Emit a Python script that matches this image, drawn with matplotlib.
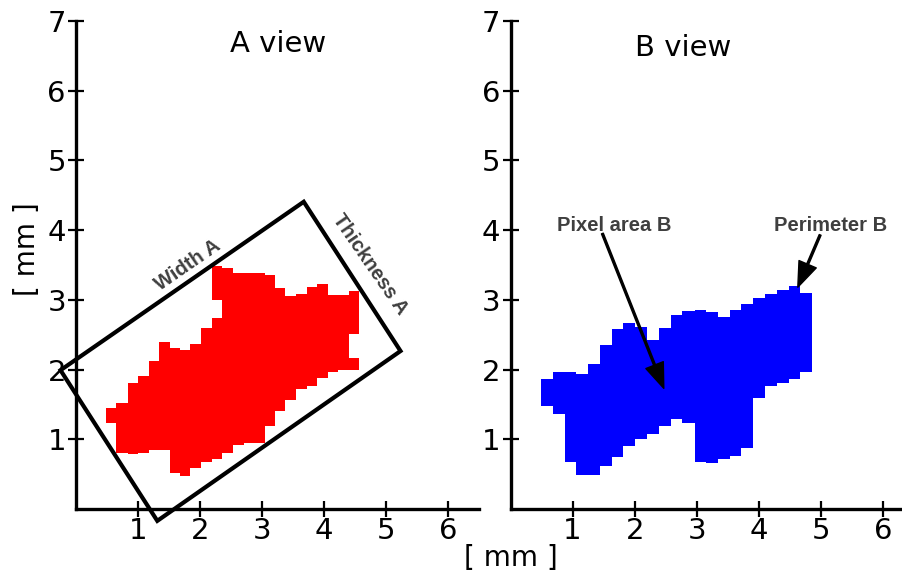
import numpy as np
import matplotlib
matplotlib.use("Agg")
import matplotlib.pyplot as plt
from matplotlib.patches import Polygon, PathPatch
from matplotlib.path import Path

# ---- A view: red pixel columns (mm) ----
red_edges = [0.48, 0.65, 0.83, 1.00, 1.17, 1.34, 1.51, 1.68, 1.84, 2.01, 2.19, 2.36, 2.53,
             2.70, 2.87, 3.04, 3.21, 3.37, 3.55, 3.72, 3.89, 4.06, 4.23, 4.40, 4.56]
red_top = [1.45, 1.52, 1.80, 1.90, 2.12, 2.40, 2.31, 2.28, 2.37, 2.59, 3.48, 3.45,
           3.39, 3.39, 3.39, 3.35, 3.17, 3.05, 3.08, 3.19, 3.22, 3.07, 3.07, 3.12]
red_bottom = [1.23, 0.81, 0.79, 0.80, 0.84, 0.84, 0.52, 0.48, 0.59, 0.68, 0.72, 0.80,
              0.92, 0.94, 0.94, 1.19, 1.41, 1.57, 1.72, 1.76, 1.88, 1.96, 2.00, 2.00]
# columns with a hole cut into them
red_gap_col = [10, 23]
red_gap_lo = [2.74, 2.16]
red_gap_hi = [2.99, 2.51]

# bounding box around A (corners, mm)
rect_x = [-0.25, 3.67, 5.23, 1.31]
rect_y = [1.99, 4.405, 2.265, -0.17]

# ---- B view: blue pixel columns (mm) ----
blue_edges = [0.49, 0.68, 0.875, 1.06, 1.25, 1.44, 1.63, 1.82, 2.01, 2.20, 2.39, 2.58,
              2.77, 2.965, 3.15, 3.34, 3.53, 3.72, 3.91, 4.10, 4.29, 4.48, 4.67, 4.86]
blue_top = [1.86, 1.96, 1.96, 1.94, 2.08, 2.355, 2.585, 2.66, 2.61, 2.42, 2.60, 2.78,
            2.84, 2.86, 2.82, 2.75, 2.86, 2.94, 3.02, 3.08, 3.14, 3.20, 3.10]
blue_bottom = [1.48, 1.36, 0.68, 0.49, 0.49, 0.62, 0.75, 0.91, 1.00, 1.07, 1.19, 1.285,
               1.23, 0.68, 0.66, 0.72, 0.76, 0.87, 1.59, 1.76, 1.80, 1.86, 1.97]

ticks_x = [1, 2, 3, 4, 5, 6]
ticks_y = [1, 2, 3, 4, 5, 6, 7]

note_color = '#3f3f3f'
note_font = ['Liberation Sans', 'DejaVu Sans']


def pixel_shape(ax, edges, top, bottom, color, gap_col=(), gap_lo=(), gap_hi=()):
    # every column -> one or two rectangles, all in one path so no seams show
    rects = []
    for i in range(len(top)):
        segs = [(bottom[i], top[i])]
        if i in gap_col:
            k = list(gap_col).index(i)
            segs = [(bottom[i], gap_lo[k]), (gap_hi[k], top[i])]
        x0, x1 = edges[i], edges[i + 1]
        for lo, hi in segs:
            rects.append(Path([(x0, lo), (x1, lo), (x1, hi), (x0, hi), (x0, lo)], closed=True))
    path = Path.make_compound_path(*rects)
    ax.add_patch(PathPatch(path, facecolor=color, edgecolor='none', zorder=2))


def style_axes(ax):
    ax.set_xlim(0, 6.5)
    ax.set_ylim(0, 7)
    ax.spines['top'].set_visible(False)
    ax.spines['right'].set_visible(False)
    ax.spines['left'].set_linewidth(2.4)
    ax.spines['bottom'].set_linewidth(2.4)
    ax.set_xticks(ticks_x)
    ax.set_yticks(ticks_y)
    ax.tick_params(direction='inout', length=11.5, width=1.6, labelsize=21)
    ax.tick_params(axis='x', pad=0)
    ax.tick_params(axis='y', pad=1.5)


fig = plt.figure(figsize=(9.03, 5.73), dpi=100)
ax1 = fig.add_axes([0.0842, 0.1117, 0.4466, 0.852])
ax2 = fig.add_axes([0.5654, 0.1117, 0.4466, 0.852])

# A view
style_axes(ax1)
pixel_shape(ax1, red_edges, red_top, red_bottom, '#ff0000', red_gap_col, red_gap_lo, red_gap_hi)
box = Polygon(list(zip(rect_x, rect_y)), closed=True, fill=False, edgecolor='black',
              linewidth=3, joinstyle='miter', clip_on=False, zorder=3)
ax1.add_patch(box)
ax1.text(3.26, 6.55, 'A view', ha='center', va='baseline', fontsize=21)
ax1.text(1.80, 3.50, 'Width A', rotation=34.6, ha='center', va='center',
         fontsize=14.5, fontweight='bold', color=note_color, family=note_font)
ax1.text(4.73, 3.51, 'Thickness A', rotation=-55.4, ha='center', va='center',
         fontsize=14.5, fontweight='bold', color=note_color, family=note_font)

# B view
style_axes(ax2)
pixel_shape(ax2, blue_edges, blue_top, blue_bottom, '#0000ff')
ax2.text(2.79, 6.50, 'B view', ha='center', va='baseline', fontsize=21)
arrow = dict(facecolor='black', edgecolor='black', width=1.4, headwidth=13.5, headlength=18, shrink=0)
ax2.annotate('', xy=(2.47, 1.73), xytext=(1.48, 3.95), arrowprops=arrow)
ax2.annotate('', xy=(4.63, 3.18), xytext=(4.99, 3.93), arrowprops=arrow)
ax2.text(1.67, 3.985, 'Pixel area B', ha='center', va='baseline',
         fontsize=14.5, fontweight='bold', color=note_color, family=note_font)
ax2.text(5.15, 3.985, 'Perimeter B', ha='center', va='baseline',
         fontsize=14.5, fontweight='bold', color=note_color, family=note_font)

fig.text(511 / 903, 1 - 558 / 573, '[ mm ]', ha='center', va='center', fontsize=20)
fig.text(27.5 / 903, 1 - 249 / 573, '[ mm ]', rotation=90, ha='center', va='center', fontsize=20)

fig.savefig('out.png', dpi=100)
